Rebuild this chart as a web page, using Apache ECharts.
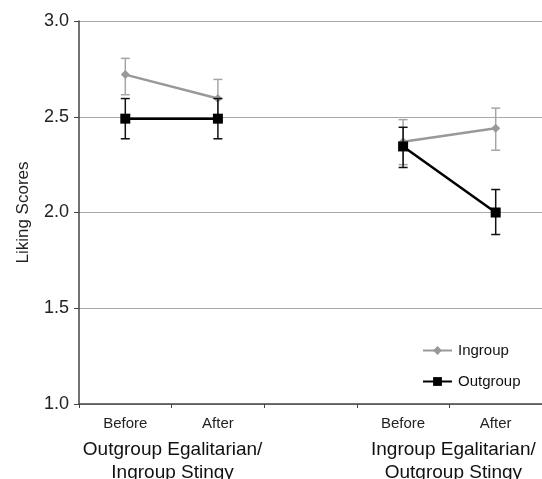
<!DOCTYPE html>
<html><head><meta charset="utf-8">
<script src="https://cdn.jsdelivr.net/npm/echarts@6/dist/echarts.min.js"></script>
<style>html,body{margin:0;padding:0;background:#fff}#c{width:542px;height:479px}</style>
</head><body><div id="c"></div>
<script>
var categories = ['Before', 'After', '', 'Before', 'After'];
var groupLabels = ['Outgroup Egalitarian/\nIngroup Stingy', 'Ingroup Egalitarian/\nOutgroup Stingy'];
var yAxisTitle = 'Liking Scores';
var ingroup = [2.72, 2.595, null, 2.37, 2.44];
var ingroupLow = [2.615, 2.49, null, 2.25, 2.325];
var ingroupHigh = [2.805, 2.695, null, 2.485, 2.545];
var outgroup = [2.49, 2.49, null, 2.345, 2.0];
var outgroupLow = [2.385, 2.385, null, 2.235, 1.885];
var outgroupHigh = [2.595, 2.595, null, 2.445, 2.12];
var yTicks = [1.0, 1.5, 2.0, 2.5, 3.0];

function errData(lo, hi) {
  var d = [];
  for (var i = 0; i < lo.length; i++) if (lo[i] != null) d.push([i, lo[i], hi[i]]);
  return d;
}
function errRender(color) {
  return function (params, api) {
    var x = api.value(0);
    var p1 = api.coord([x, api.value(1)]);
    var p2 = api.coord([x, api.value(2)]);
    var w = 4.5;
    var st = { stroke: color, lineWidth: 1.5 };
    return { type: 'group', children: [
      { type: 'line', shape: { x1: p1[0], y1: p1[1], x2: p2[0], y2: p2[1] }, style: st },
      { type: 'line', shape: { x1: p1[0] - w, y1: p1[1], x2: p1[0] + w, y2: p1[1] }, style: st },
      { type: 'line', shape: { x1: p2[0] - w, y1: p2[1], x2: p2[0] + w, y2: p2[1] }, style: st }
    ]};
  };
}
var chart = echarts.init(document.getElementById('c'));
var FF = '"Liberation Sans", Arial, sans-serif';
chart.setOption({
  animation: false,
  textStyle: { fontFamily: FF },
  grid: { left: 79, right: -3, top: 21, bottom: 75 },
  legend: {
    data: ['Ingroup', 'Outgroup'], orient: 'vertical', left: 417, top: 338,
    itemWidth: 29, itemHeight: 11, itemGap: 16,
    textStyle: { fontSize: 15, color: '#111', fontFamily: FF, padding: [0, 0, 0, 1] }
  },
  xAxis: {
    type: 'category', data: categories, boundaryGap: true,
    axisLine: { lineStyle: { color: '#444', width: 1.5 } },
    axisTick: { show: true, length: 4, alignWithLabel: false, lineStyle: { color: '#444' } },
    axisLabel: { color: '#222', fontSize: 15, margin: 12, fontFamily: FF },
    splitLine: { show: false }
  },
  yAxis: {
    type: 'value', min: yTicks[0], max: yTicks[yTicks.length - 1], interval: 0.5,
    axisLine: { show: true, lineStyle: { color: '#444', width: 1.5 } },
    axisTick: { show: true, length: 5, lineStyle: { color: '#444' } },
    axisLabel: { color: '#222', fontSize: 18, margin: 10, fontFamily: FF,
      formatter: function (v) { return v.toFixed(1); } },
    splitLine: { lineStyle: { color: '#aaa', width: 1 } }
  },
  series: [
    { name: 'IngroupErr', type: 'custom', data: errData(ingroupLow, ingroupHigh),
      renderItem: errRender('#a6a6a6'), z: 1, silent: true },
    { name: 'Ingroup', type: 'line', data: ingroup, connectNulls: false,
      symbol: 'diamond', symbolSize: 9, showAllSymbol: true,
      itemStyle: { color: '#999' }, lineStyle: { color: '#999', width: 2.5 }, z: 2 },
    { name: 'OutgroupErr', type: 'custom', data: errData(outgroupLow, outgroupHigh),
      renderItem: errRender('#111'), z: 3, silent: true },
    { name: 'Outgroup', type: 'line', data: outgroup, connectNulls: false,
      symbol: 'rect', symbolSize: 10, showAllSymbol: true,
      itemStyle: { color: '#000' }, lineStyle: { color: '#000', width: 2.5 }, z: 4 }
  ]
});
var g1 = chart.convertToPixel({ xAxisIndex: 0 }, 0);
var g1b = chart.convertToPixel({ xAxisIndex: 0 }, 1);
var g2 = chart.convertToPixel({ xAxisIndex: 0 }, 3);
var g2b = chart.convertToPixel({ xAxisIndex: 0 }, 4);
var yMid = chart.convertToPixel({ yAxisIndex: 0 }, 2.0);
chart.setOption({
  graphic: [
    { type: 'text', x: 23, y: yMid, rotation: Math.PI / 2,
      style: { text: yAxisTitle, font: '17px ' + FF, fill: '#222', align: 'center', verticalAlign: 'middle' } },
    { type: 'text', x: (g1 + g1b) / 2 + 1, y: 438, style: { text: groupLabels[0], font: '19px ' + FF,
      fill: '#111', align: 'center', lineHeight: 23 } },
    { type: 'text', x: (g2 + g2b) / 2 + 4, y: 438, style: { text: groupLabels[1], font: '19px ' + FF,
      fill: '#111', align: 'center', lineHeight: 23 } }
  ]
});
</script></body></html>
